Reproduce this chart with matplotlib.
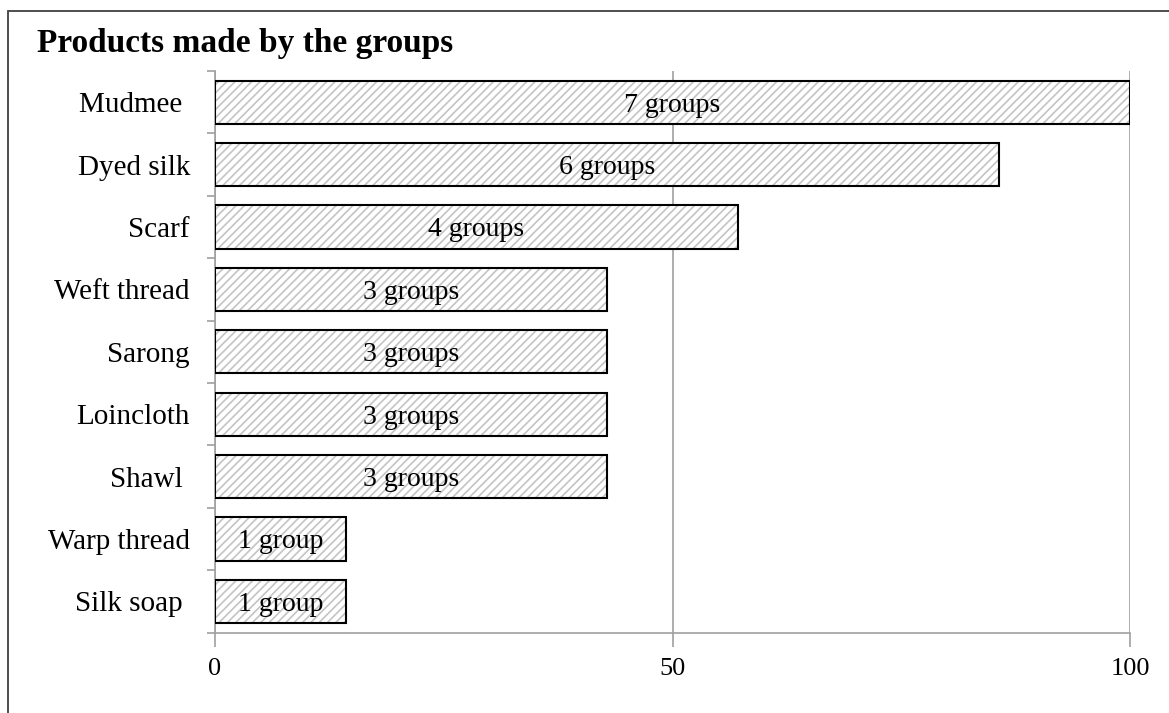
import numpy as np
import matplotlib
matplotlib.use("Agg")
import matplotlib.pyplot as plt
from matplotlib.patches import Rectangle

# Products and the number of groups making each one (of 7 groups surveyed)
products = ["Mudmee ", "Dyed silk", "Scarf", "Weft thread", "Sarong",
            "Loincloth", "Shawl ", "Warp thread", "Silk soap "]
group_counts = [7, 6, 4, 3, 3, 3, 3, 1, 1]
total_groups = 7
count_labels = ["7 groups", "6 groups", "4 groups", "3 groups", "3 groups",
                "3 groups", "3 groups", "1 group", "1 group"]
x_ticks = [0, 50, 100]
title = "Products made by the groups"

shares = np.array(group_counts) / total_groups * 100

plt.rcParams["font.family"] = ["Liberation Serif", "DejaVu Serif"]
plt.rcParams["hatch.linewidth"] = 1.2

fig = plt.figure(figsize=(11.69, 7.13), dpi=100)
ax = fig.add_axes([215 / 1169, 1 - 632.6 / 713, 915 / 1169, (632.6 - 71) / 713])

n = len(products)
ypos = np.arange(n)[::-1]  # first product at the top

# hatched fill layer (light grey stripes), then black outline layer
ax.barh(ypos, shares, height=0.69, color="white", edgecolor="#c4c4c4",
        linewidth=0, hatch="////", zorder=2)
ax.barh(ypos, shares, height=0.69, fill=False, edgecolor="black",
        linewidth=1.5, zorder=3)

for y, v, lab in zip(ypos, shares, count_labels):
    ax.annotate(lab, (v / 2, y), xytext=(0, -6.8), textcoords="offset points",
                ha="center", va="baseline", fontsize=20, color="black",
                zorder=4)

ax.set_xlim(0, 100)
ax.set_ylim(-0.5, n - 0.5)

# x axis
ax.set_xticks(x_ticks)
ax.set_xticklabels([str(t) for t in x_ticks], fontsize=19)
ax.tick_params(axis="x", direction="out", length=10, width=1.2,
               color="#a0a0a0", pad=8)
ax.grid(axis="x", color="#a0a0a0", linewidth=1.2, zorder=1)

# y axis: ticks on category boundaries, labels on category centres
ax.set_yticks(np.arange(-0.5, n, 1.0))
ax.set_yticklabels([])
ax.set_yticks(ypos, minor=True)
ax.set_yticklabels(products, minor=True, fontsize=21)
ax.tick_params(axis="y", which="major", direction="out", length=6,
               width=1.2, color="#a0a0a0")
ax.tick_params(axis="y", which="minor", length=0, pad=18)

for side in ("top", "right"):
    ax.spines[side].set_visible(False)
for side in ("left", "bottom"):
    ax.spines[side].set_color("#a0a0a0")
    ax.spines[side].set_linewidth(1.2)
ax.set_axisbelow(True)

fig.text(37 / 1169, 1 - 52 / 713, title, fontsize=24, fontweight="bold",
         ha="left", va="baseline")

# chart frame (top and left edges visible)
fig.patches.append(Rectangle((8 / 1169, -0.05), 1.2, 1 - 11 / 713 + 0.05,
                             transform=fig.transFigure, fill=False,
                             edgecolor="#404040", linewidth=1.3, zorder=0))

fig.savefig("out.png", dpi=100)
